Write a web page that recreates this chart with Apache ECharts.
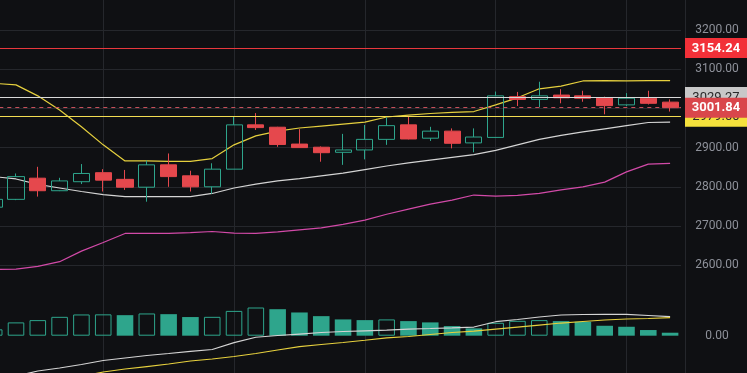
<!DOCTYPE html>
<html><head><meta charset="utf-8">
<script src="https://cdn.jsdelivr.net/npm/echarts@6/dist/echarts.min.js"></script>
<style>html,body{margin:0;padding:0;background:#0f1013;overflow:hidden}#c{width:747px;height:373px}</style>
</head><body><div id="c"></div>
<script>
const categories = ['1','2','3','4','5','6','7','8','9','10','11','12','13','14','15','16','17','18','19','20','21','22','23','24','25','26','27','28','29','30','31','32'];
// [open, close, low, high]
const candles = [
 [2748,2768,2744,2775],[2768,2826,2766,2834],[2822,2790,2775,2851],[2790,2815,2789,2823],
 [2813,2834,2807,2858],[2836,2817,2788,2845],[2819,2799,2792,2843],[2799,2856,2762,2867],
 [2856,2826,2800,2885],[2828,2800,2788,2841],[2800,2845,2782,2860],[2845,2958,2845,2979],
 [2958,2951,2945,2988],[2952,2908,2902,2953],[2909,2900,2899,2947],[2901,2887,2864,2903],
 [2888,2894,2856,2935],[2894,2921,2870,2958],[2921,2956,2907,2977],[2958,2922,2921,2981],
 [2924,2942,2917,2953],[2942,2911,2898,2949],[2912,2927,2888,2949],[2926,3032,2925,3043],
 [3030,3023,3006,3042],[3023,3032,3003,3068],[3034,3027,3013,3049],[3032,3026,3017,3045],
 [3027,3007,2985,3030],[3009,3026,3006,3039],[3026,3013,3010,3045],[3016,3001.84,2992,3023]
];
const maYellow = [3064,3060,3032,2996,2953,2907,2866,2866,2865,2865,2872,2907,2930,2942,2950,2955,2960,2965,2978,2983,2987,2990,2992,3009,3027,3050,3057,3070,3071,3070,3071,3071];
const maWhite = [2826,2820,2806,2797,2788,2780,2775,2775,2775,2775,2783,2797,2807,2815,2821,2828,2835,2844,2853,2861,2868,2875,2882,2893,2907,2921,2931,2940,2948,2956,2964,2965];
const maMagenta = [2589,2590,2597,2609,2636,2658,2681,2681,2681,2683,2686,2682,2681,2685,2690,2695,2704,2715,2730,2743,2756,2766,2779,2776,2778,2783,2792,2800,2812,2838,2858,2860];
const volumes = [64,134,157,190,214,215,207,224,217,188,190,250,284,267,234,197,164,157,164,147,134,97,74,130,150,157,147,140,100,90,57,30];
const volMaWhite = [-9,-4,2.6,6.5,11,16.2,19.5,22.7,25.3,28,30.5,39.4,46.4,48.7,50.6,52.6,53.9,54.8,55.8,57,57.8,58.7,59.7,66.6,69.5,72.7,75.3,76,76.2,76.2,74.7,73.1];
const volMaYellow = [-28,-22,-17,-10,-4.5,1.3,5.2,8.4,11.7,15.6,18.2,21.4,25.3,29.9,34.2,37,39.6,42.5,45.5,47.4,50,52.6,54.5,57.1,59.7,62.3,64.9,66.9,68.8,70.1,70.8,71.8];
const levelValues = [3154.24, 3029.27, 2979.00, 3001.84];
const priceMin = 2500, priceMax = 3300, priceStep = 100;

const UP = '#2ea58c', DOWN = '#e5484d', GRID = '#25272c', BG = '#0f1013';
const levelStyles = [
  {line:{color:'#e8383d',width:1,type:'solid'}, bg:'#f23038', fg:'#ffffff', bold:true},
  {line:{color:'#d9d9d9',width:1,type:'solid'}, bg:'#c8c8c8', fg:'#2a2a2a', bold:false},
  {line:{color:'#f2dc52',width:1,type:'solid'}, bg:'#f5e13c', fg:'#2a2a2a', bold:false},
  {line:{color:'#c8505a',width:1,type:[4,4]}, bg:'#d9464b', fg:'#ffffff', bold:true}
];

const markData = levelValues.map((v,i)=>({
  yAxis: v,
  lineStyle: levelStyles[i].line,
  label: {
    show:true, position:'end', distance:4,
    formatter: ()=> '{t|' + v.toFixed(2) + '}',
    backgroundColor: levelStyles[i].bg,
    padding:[4,0,3,0],
    rich:{t:{width:62, align:'center', color:levelStyles[i].fg, fontSize:13, lineHeight:13,
      fontWeight: levelStyles[i].bold ? 'bold' : 'normal', fontFamily:'Roboto'}}
  }
}));

const volumeItems = volumes.map((v,i)=>{
  const hollow = i === 0 || v >= volumes[i-1];
  return {value:v, itemStyle: hollow
    ? {color:'rgba(0,0,0,0)', borderColor:UP, borderWidth:1}
    : {color:UP, borderWidth:0}};
});

const chart = echarts.init(document.getElementById('c'), null, {renderer:'canvas'});
const xCommon = {
  type:'category', data:categories, boundaryGap:true,
  axisLine:{show:false}, axisTick:{show:false}, axisLabel:{show:false},
  splitLine:{show:true, alignWithLabel:true, interval:(i)=> i % 6 === 5, lineStyle:{color:GRID, width:1}}
};
chart.setOption({
  backgroundColor: BG,
  animation:false,
  grid:[
    {left:-16.7, right:66, top:-9.2, bottom:68.6, outerBoundsMode:'none', containLabel:false},
    {left:-16.7, right:66, top:296, bottom:0, outerBoundsMode:'none', containLabel:false}
  ],
  xAxis:[ Object.assign({gridIndex:0}, xCommon), Object.assign({gridIndex:1}, xCommon) ],
  yAxis:[
    {gridIndex:0, type:'value', position:'right', offset:4, min:priceMin, max:priceMax, interval:priceStep,
     axisLine:{show:true, lineStyle:{color:GRID}}, axisTick:{show:false},
     axisLabel:{color:'#8e919a', fontSize:12, fontFamily:'Roboto', margin:32, align:'center',
       showMinLabel:false, showMaxLabel:false, formatter:(v)=>v.toFixed(2)},
     splitLine:{show:true, showMinLine:false, showMaxLine:false, lineStyle:{color:GRID}}},
    {gridIndex:1, type:'value', position:'right', offset:4, min:-376, max:400,
     axisLine:{show:true, lineStyle:{color:GRID}}, axisTick:{show:false},
     axisLabel:{color:'#8e919a', fontSize:12, fontFamily:'Roboto', margin:32, align:'center',
       formatter:(v)=> v === 0 ? '0.00' : ''},
     splitLine:{show:false}},
    {gridIndex:1, type:'value', min:0, max:100, show:false, splitLine:{show:false}}
  ],
  series:[
    {type:'line', xAxisIndex:0, yAxisIndex:0, data:maMagenta, symbol:'none', lineStyle:{color:'#d24aa8', width:1.2}, z:3},
    {type:'line', xAxisIndex:0, yAxisIndex:0, data:maWhite, symbol:'none', lineStyle:{color:'#d4d4d4', width:1.2}, z:3},
    {type:'line', xAxisIndex:0, yAxisIndex:0, data:maYellow, symbol:'none', lineStyle:{color:'#e6d03e', width:1.2}, z:3},
    {type:'candlestick', xAxisIndex:0, yAxisIndex:0, data:candles, barWidth:'76%',
     itemStyle:{color:'rgba(0,0,0,0)', color0:DOWN, borderColor:UP, borderColor0:DOWN, borderWidth:1}, z:4,
     markLine:{symbol:'none', silent:true, animation:false, data:markData, z:5}},
    {type:'bar', xAxisIndex:1, yAxisIndex:1, data:volumeItems, barWidth:'76%', z:2},
    {type:'line', xAxisIndex:1, yAxisIndex:2, data:volMaWhite, symbol:'none', lineStyle:{color:'#d4d4d4', width:1.2}, z:3},
    {type:'line', xAxisIndex:1, yAxisIndex:2, data:volMaYellow, symbol:'none', lineStyle:{color:'#e6d03e', width:1.2}, z:3}
  ]
});
</script></body></html>
